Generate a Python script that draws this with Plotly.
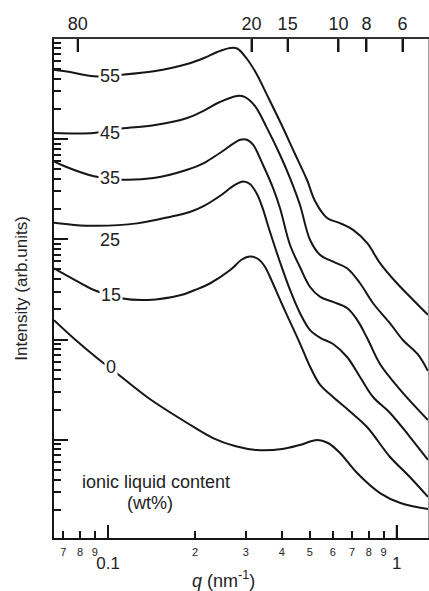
import numpy as np
import plotly.graph_objects as go

# Scattering curves: q (nm^-1) vs. intensity (arb. units), one per ionic liquid content (wt%)
q_55 = [0.0650, 0.0739, 0.0894, 0.111, 0.144, 0.188, 0.215, 0.239, 0.265, 0.280, 0.303, 0.328,
        0.355, 0.398, 0.441, 0.489, 0.521, 0.574, 0.636, 0.706, 0.789, 0.875, 1.00, 1.14, 1.283]
I_55 = [4.91e4, 4.66e4, 4.22e4, 4.38e4, 4.74e4, 5.60e4, 6.43e4, 7.38e4, 8.09e4, 7.99e4, 6.28e4, 4.38e4,
        2.77e4, 1.41e4, 7.42e3, 3.90e3, 2.41e3, 1.63e3, 1.45e3, 1.24e3, 918, 579, 366, 248, 176]

q_45 = [0.0650, 0.0894, 0.111, 0.144, 0.188, 0.215, 0.244, 0.280, 0.298, 0.323, 0.355, 0.394,
        0.427, 0.462, 0.501, 0.543, 0.602, 0.673, 0.746, 0.828, 0.948, 1.05, 1.18, 1.283]
I_45 = [1.15e4, 1.15e4, 1.27e4, 1.37e4, 1.62e4, 1.92e4, 2.34e4, 2.69e4, 2.62e4, 2.13e4, 1.29e4, 6.97e3,
        4.08e3, 2.21e3, 983, 697, 597, 513, 364, 230, 145, 98.9, 71.7, 48.5]

q_35 = [0.0650, 0.0704, 0.0894, 0.111, 0.144, 0.188, 0.215, 0.244, 0.287, 0.303, 0.318, 0.344,
        0.373, 0.394, 0.427, 0.462, 0.501, 0.543, 0.602, 0.673, 0.729, 0.789, 0.875, 1.03, 1.283]
I_35 = [5.99e3, 5.38e3, 4.25e3, 3.93e3, 4.08e3, 4.94e3, 5.76e3, 7.25e3, 9.84e3, 9.84e3, 8.77e3, 5.54e3,
        3.24e3, 2.05e3, 876, 529, 334, 266, 237, 206, 157, 104, 57.0, 31.3, 15.7]

q_25 = [0.0650, 0.0763, 0.0916, 0.126, 0.165, 0.192, 0.215, 0.244, 0.275, 0.294, 0.310, 0.328,
        0.342, 0.364, 0.394, 0.427, 0.462, 0.501, 0.543, 0.602, 0.673, 0.746, 0.828, 0.948, 1.11, 1.283]
I_25 = [1.46e3, 1.39e3, 1.36e3, 1.44e3, 1.68e3, 1.87e3, 2.15e3, 2.70e3, 3.48e3, 3.77e3, 3.56e3, 2.83e3,
        2.10e3, 1.18e3, 593, 312, 184, 124, 104, 90.2, 66.9, 42.3, 26.7, 18.5, 10.7, 6.28]

q_15 = [0.0650, 0.0769, 0.0894, 0.111, 0.137, 0.179, 0.200, 0.226, 0.265, 0.291, 0.310, 0.331,
        0.350, 0.364, 0.404, 0.462, 0.501, 0.543, 0.602, 0.689, 0.789, 0.948, 1.11, 1.283]
I_15 = [513, 392, 312, 258, 248, 278, 312, 364, 493, 628, 673, 635,
        529, 420, 213, 91.6, 53.5, 35.2, 26.7, 19.1, 13.4, 6.73, 4.25, 2.69]

q_0 = [0.0650, 0.0769, 0.0916, 0.107, 0.138, 0.188, 0.231, 0.275, 0.328, 0.401, 0.462, 0.530,
       0.578, 0.636, 0.729, 0.875, 1.03, 1.283]
I_0 = [156, 100, 65.4, 46.3, 26.1, 14.7, 10.4, 8.66, 7.90, 8.09, 8.86, 9.94,
       9.28, 7.38, 4.66, 2.94, 2.34, 2.04]

contents = ["0", "15", "25", "35", "45", "55"]
curves = {"0": (q_0, I_0), "15": (q_15, I_15), "25": (q_25, I_25),
          "35": (q_35, I_35), "45": (q_45, I_45), "55": (q_55, I_55)}

# where each content label sits on its curve
label_q = {"0": 0.102, "15": 0.102, "25": 0.1016, "35": 0.1016, "45": 0.1016, "55": 0.1016}
label_I = {"0": 52.6, "15": 278, "25": 983, "35": 4.08e3, "45": 1.15e4, "55": 4.22e4}

# bottom axis ticks (q) and top axis ticks (d-spacing in nm, d = 2*pi/q)
major_q = [0.1, 1]
major_q_text = ["0.1", "1"]
minor_q = [0.07, 0.08, 0.09, 0.2, 0.3, 0.4, 0.5, 0.6, 0.7, 0.8, 0.9]
minor_q_text = ["7", "8", "9", "2", "3", "4", "5", "6", "7", "8", "9"]
d_spacing = [80, 20, 15, 10, 8, 6]

FONT = "Liberation Sans, Arial, Helvetica, sans-serif"
INK = "#161616"
x_range = [np.log10(0.065), np.log10(1.283)]
y_range = [0.02, 4.9975]
LONG_TICK = 13 / 499          # long tick length as a fraction of the plot height

major_I = [10.0 ** k for k in range(1, 5)]
minor_I = [m * 10.0 ** k for k in range(0, 5) for m in range(2, 10)]
d_q = [2 * np.pi / d for d in d_spacing]

fig = go.Figure()
for c in contents:
    q, inten = curves[c]
    fig.add_trace(go.Scatter(
        x=q, y=inten, mode="lines", name=c + " wt%",
        line=dict(color=INK, width=2, shape="spline", smoothing=1.0),
        showlegend=False, hoverinfo="skip"))


def tick_marks(vals, base, tip):
    xs, ys = [], []
    for v in vals:
        xs += [v, v, None]
        ys += [base, tip, None]
    return xs, ys


# long inward ticks at q = 0.1, 1 (bottom) and at the d-spacing values (top),
# drawn on a 0..1 fractional overlay of the plot height
for vals, base, tip in ((major_q, 0.0, LONG_TICK), (d_q, 1.0, 1.0 - LONG_TICK)):
    tx, ty = tick_marks(vals, base, tip)
    fig.add_trace(go.Scatter(x=tx, y=ty, xaxis="x", yaxis="y3", mode="lines",
                             line=dict(color=INK, width=2), cliponaxis=False,
                             showlegend=False, hoverinfo="skip"))

# invisible anchors so the secondary axes (tick labels, right frame) are drawn
for xa, ya in (("x2", "y"), ("x3", "y"), ("x4", "y"), ("x", "y2")):
    fig.add_trace(go.Scatter(x=[0.1], y=[10], xaxis=xa, yaxis=ya, mode="markers",
                             marker=dict(opacity=0), showlegend=False, hoverinfo="skip"))

for c in contents:
    fig.add_annotation(
        x=np.log10(label_q[c]), y=np.log10(label_I[c]), xref="x", yref="y",
        text=c, showarrow=False, font=dict(size=18, color="#222", family=FONT),
        bgcolor=None if c == "25" else "white", borderpad=1)

fig.add_annotation(x=np.log10(0.1466), y=np.log10(3.79), xref="x", yref="y",
                   text="ionic liquid content", showarrow=False,
                   font=dict(size=18, color="#222", family=FONT))
fig.add_annotation(x=np.log10(0.1398), y=np.log10(2.34), xref="x", yref="y",
                   text="(wt%)", showarrow=False,
                   font=dict(size=18, color="#222", family=FONT))

# q axis title, set a little left of the plot centre
fig.add_annotation(x=0.453, y=-0.084, xref="paper", yref="paper",
                   xanchor="center", yanchor="middle",
                   text="<i>q</i> (nm<sup>-1</sup>)", showarrow=False,
                   font=dict(size=18, color="#222", family=FONT))

overlay = dict(type="log", range=x_range, overlaying="x", anchor="y", tickmode="array",
               ticks="", showline=False, showgrid=False, zeroline=False)

fig.update_layout(
    width=429, height=591,
    margin=dict(l=54, r=1, t=39, b=53),
    paper_bgcolor="white", plot_bgcolor="rgba(0,0,0,0)", showlegend=False,
    font=dict(family=FONT, size=17, color="#222"),
    # bottom q axis: frame line and tick marks
    xaxis=dict(
        type="log", range=x_range, tickmode="array", tickvals=major_q,
        ticks="inside", ticklen=13, tickwidth=2, tickcolor=INK,
        showticklabels=False,
        showline=True, linecolor=INK, linewidth=2,
        showgrid=False, zeroline=False,
        minor=dict(tickmode="array", tickvals=minor_q, ticks="inside",
                   ticklen=7, tickwidth=1.5, tickcolor=INK, showgrid=False)),
    xaxis2=dict(overlay, side="bottom", tickvals=minor_q, ticktext=minor_q_text,
                ticklabelstandoff=6, tickfont=dict(size=11)),
    xaxis4=dict(overlay, side="bottom", tickvals=major_q, ticktext=major_q_text,
                ticklabelstandoff=13, tickfont=dict(size=17)),
    # d-spacing scale along the top edge, sharing the plot area
    xaxis3=dict(
        type="log", range=x_range, side="top", anchor="y", domain=[0, 1],
        tickmode="array", tickvals=d_q, ticktext=[str(d) for d in d_spacing],
        ticks="inside", ticklen=13, tickwidth=2, tickcolor=INK,
        tickfont=dict(size=18),
        showline=True, linecolor="#333", linewidth=1.5,
        showgrid=False, zeroline=False),
    yaxis=dict(
        type="log", range=y_range, tickmode="array", tickvals=major_I,
        ticks="inside", ticklen=14, tickwidth=2, tickcolor=INK,
        showticklabels=False, showline=True, linecolor=INK, linewidth=2,
        showgrid=False, zeroline=False,
        minor=dict(tickmode="array", tickvals=minor_I, ticks="inside",
                   ticklen=7, tickwidth=1.5, tickcolor=INK, showgrid=False),
        title=dict(text="Intensity (arb.units)", font=dict(size=17), standoff=20)),
    yaxis2=dict(
        type="log", range=y_range, overlaying="y", side="right", anchor="x",
        showline=True, linecolor="#9a9a9a", linewidth=1,
        showticklabels=False, ticks="", showgrid=False, zeroline=False),
    yaxis3=dict(range=[0, 1], overlaying="y", anchor="x", visible=False, fixedrange=True),
)

fig.write_html("out.html")
